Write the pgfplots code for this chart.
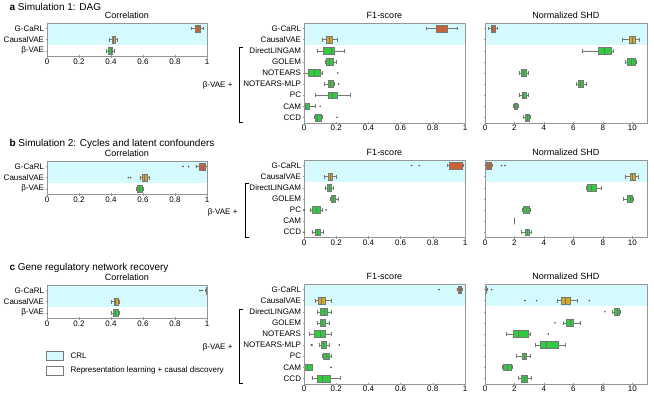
\documentclass[border=0pt]{standalone}
\usepackage{fontspec}
\setmainfont{Liberation Sans}
\usepackage{pgfplots}
\pgfplotsset{compat=1.18}
\usepgfplotslibrary{statistics}
\definecolor{crl}{RGB}{212,250,253}
\definecolor{orng}{RGB}{210,98,45}
\definecolor{gold}{RGB}{214,168,40}
\definecolor{grn}{RGB}{48,204,64}
\definecolor{edge}{RGB}{120,120,120}
\definecolor{frame}{RGB}{150,150,150}
\newcommand{\fs}{\fontsize{8}{9}\selectfont}
\pgfplotsset{
  pan/.style={scale only axis, axis on top, clip=false, anchor=north west,
    y dir=reverse, ymin=0.5, xmin=0,
    axis line style={frame,line width=0.5pt}, tick style={frame,line width=0.4pt},
    major tick length=2.5pt, tick align=center, tick pos=left,
    every tick label/.append style={font=\fs},
    xticklabel style={inner sep=1pt}, yticklabel style={inner sep=1.5pt},
    /pgf/number format/assume math mode=true,
    title style={font=\fontsize{9}{10}\selectfont, inner sep=0pt},
    every axis title shift=4pt,
    boxplot/draw direction=x},
  cr/.style={pan, width=160pt, height=33.3pt, xmax=1, xtick={0,0.2,0.4,0.6,0.8,1},
    ymax=3.5, ytick={1,2,3}, yticklabels={G-CaRL,CausalVAE,β-VAE}, title={Correlation}},
  fone/.style={pan, width=161pt, xmax=1, xtick={0,0.2,0.4,0.6,0.8,1}, title={F1-score}},
  shd/.style={pan, width=162pt, xmax=11, xtick={0,2,4,6,8,10}, yticklabels={}, title={Normalized SHD}},
  nine/.style={height=99.9pt, ymax=9.5, ytick={1,...,9}},
  seven/.style={height=77.7pt, ymax=7.5, ytick={1,...,7}},
  bxs/.style={draw=edge, line width=0.4pt, solid, mark=*, mark size=0.55pt,
    mark options={fill=black!70, draw=black!70},
    boxplot/box extend=0.62, boxplot/whisker extend=0.35,
    boxplot/every median/.style={draw=black!55, line width=0.6pt}},
}
% box: colour, row, lower whisker, lower quartile, median, upper quartile, upper whisker
\newcommand{\bx}[7]{\addplot[bxs, fill=#1, boxplot prepared={draw position=#2,
  lower whisker=#3, lower quartile=#4, median=#5, upper quartile=#6, upper whisker=#7}] coordinates {};}
% same, with outliers as last argument
\newcommand{\bxo}[8]{\addplot[bxs, fill=#1, boxplot prepared={draw position=#2,
  lower whisker=#3, lower quartile=#4, median=#5, upper quartile=#6, upper whisker=#7}]
  table[row sep=\\, y index=0] {v\\#8};}
\newcommand{\band}[2]{\fill[crl] (axis cs:0,0.5) rectangle (axis cs:#1,#2);}
\def\labsA{G-CaRL,CausalVAE,DirectLINGAM,GOLEM,NOTEARS,NOTEARS-MLP,PC,CAM,CCD}
\def\labsB{G-CaRL,CausalVAE,DirectLINGAM,GOLEM,PC,CAM,CCD}

\begin{document}
\begin{tikzpicture}[font=\fs]
\useasboundingbox (0,0) rectangle (654pt,-397pt);

% ---------------- a
\node[anchor=west, font=\fontsize{10}{12}\selectfont] at (6pt,-7pt) {\textbf{a} Simulation 1: DAG};
\begin{axis}[cr, at={(47pt,-23pt)}]
\band{1}{2.5}
\bx{orng}{1}{0.90}{0.925}{0.945}{0.96}{0.975}
\bx{gold}{2}{0.39}{0.405}{0.415}{0.425}{0.44}
\bx{grn}{3}{0.37}{0.385}{0.40}{0.41}{0.42}
\end{axis}
\begin{axis}[fone, nine, yticklabels/.expand once=\labsA, at={(304pt,-23pt)}]
\band{1}{2.5}
\bx{orng}{1}{0.76}{0.82}{0.857}{0.89}{0.95}
\bx{gold}{2}{0.11}{0.14}{0.16}{0.175}{0.205}
\bx{grn}{3}{0.08}{0.12}{0.168}{0.19}{0.25}
\bx{grn}{4}{0.13}{0.14}{0.16}{0.18}{0.20}
\bxo{grn}{5}{0.0}{0.025}{0.062}{0.10}{0.11}{0.21\\}
\bxo{grn}{6}{0.125}{0.15}{0.165}{0.18}{0.19}{0.215\\}
\bx{grn}{7}{0.07}{0.15}{0.175}{0.205}{0.29}
\bxo{grn}{8}{0.0}{0.0}{0.01}{0.03}{0.07}{0.10\\}
\bxo{grn}{9}{0.065}{0.07}{0.085}{0.105}{0.11}{0.205\\}
\end{axis}
\begin{axis}[shd, nine, at={(485pt,-23pt)}]
\band{11}{2.5}
\bx{orng}{1}{0.23}{0.39}{0.5}{0.68}{0.84}
\bx{gold}{2}{9.34}{9.82}{10.0}{10.2}{10.5}
\bx{grn}{3}{6.58}{7.66}{8.1}{8.55}{8.73}
\bx{grn}{4}{9.5}{9.64}{9.95}{10.2}{10.3}
\bx{grn}{5}{2.3}{2.43}{2.6}{2.77}{2.9}
\bx{grn}{6}{6.2}{6.3}{6.5}{6.69}{6.9}
\bx{grn}{7}{2.3}{2.5}{2.6}{2.77}{2.9}
\bx{grn}{8}{1.9}{1.97}{2.05}{2.2}{2.25}
\bx{grn}{9}{2.6}{2.72}{2.9}{3.01}{3.1}
\end{axis}
\draw[black, line width=0.5pt] (243pt,-47pt) -- (239pt,-47pt) -- (239pt,-122pt) -- (243pt,-122pt);
\node[anchor=east] at (236pt,-85pt) {β-VAE +};

% ---------------- b
\node[anchor=west, font=\fontsize{10}{12}\selectfont] at (6pt,-144pt) {\textbf{b} Simulation 2: Cycles and latent confounders};
\begin{axis}[cr, at={(47pt,-161pt)}]
\band{1}{2.5}
\bxo{orng}{1}{0.93}{0.95}{0.975}{0.99}{1.0}{0.85\\0.885\\}
\bxo{gold}{2}{0.58}{0.595}{0.61}{0.627}{0.64}{0.508\\0.523\\}
\bx{grn}{3}{0.56}{0.565}{0.58}{0.595}{0.60}
\end{axis}
\begin{axis}[fone, seven, yticklabels/.expand once=\labsB, at={(304pt,-160pt)}]
\band{1}{2.5}
\bxo{orng}{1}{0.89}{0.90}{0.95}{0.98}{0.99}{0.669\\0.716\\}
\bx{gold}{2}{0.126}{0.151}{0.165}{0.178}{0.203}
\bx{grn}{3}{0.13}{0.145}{0.157}{0.17}{0.182}
\bx{grn}{4}{0.16}{0.166}{0.18}{0.193}{0.213}
\bxo{grn}{5}{0.037}{0.054}{0.075}{0.10}{0.11}{0\\0.137\\}
\bx{grn}{6}{0}{0}{0}{0}{0}
\bxo{grn}{7}{0.048}{0.068}{0.08}{0.10}{0.12}{0\\}
\end{axis}
\begin{axis}[shd, seven, at={(485pt,-160pt)}]
\band{11}{2.5}
\bxo{orng}{1}{0.05}{0.11}{0.3}{0.45}{0.5}{1.13\\1.36\\}
\bx{gold}{2}{9.5}{9.84}{10.0}{10.18}{10.4}
\bx{grn}{3}{6.9}{6.95}{7.24}{7.53}{7.92}
\bx{grn}{4}{9.39}{9.66}{9.85}{10.0}{10.07}
\bx{grn}{5}{2.55}{2.6}{2.8}{3.0}{3.05}
\bx{grn}{6}{2}{2}{2}{2}{2}
\bx{grn}{7}{2.49}{2.71}{2.85}{2.99}{3.17}
\end{axis}
\draw[black, line width=0.5pt] (249pt,-183pt) -- (245pt,-183pt) -- (245pt,-237pt) -- (249pt,-237pt);
\node[anchor=east] at (241pt,-212pt) {β-VAE +};

% ---------------- c
\node[anchor=west, font=\fontsize{10}{12}\selectfont] at (6pt,-268pt) {\textbf{c} Gene regulatory network recovery};
\begin{axis}[cr, at={(47pt,-285pt)}]
\band{1}{2.5}
\bxo{orng}{1}{0.99}{0.994}{0.998}{1.0}{1.0}{0.956\\0.969\\}
\bx{gold}{2}{0.40}{0.417}{0.43}{0.442}{0.454}
\bx{grn}{3}{0.40}{0.415}{0.43}{0.442}{0.454}
\end{axis}
\begin{axis}[fone, nine, yticklabels/.expand once=\labsA, at={(304pt,-284pt)}]
\band{1}{2.5}
\bxo{orng}{1}{0.95}{0.958}{0.97}{0.978}{0.985}{0.838\\}
\bx{gold}{2}{0.072}{0.089}{0.11}{0.13}{0.168}
\bx{grn}{3}{0.083}{0.10}{0.125}{0.147}{0.168}
\bx{grn}{4}{0.079}{0.10}{0.114}{0.13}{0.157}
\bx{grn}{5}{0.033}{0.062}{0.10}{0.13}{0.172}
\bxo{grn}{6}{0.095}{0.106}{0.12}{0.137}{0.157}{0.045\\0.05\\0.219\\}
\bx{grn}{7}{0.11}{0.12}{0.138}{0.155}{0.172}
\bxo{grn}{8}{0.0}{0.002}{0.02}{0.048}{0.05}{0.168\\}
\bx{grn}{9}{0.048}{0.079}{0.115}{0.161}{0.224}
\end{axis}
\begin{axis}[shd, nine, at={(485pt,-284pt)}]
\band{11}{2.5}
\bxo{orng}{1}{0.0}{0.0}{0.05}{0.11}{0.15}{0.45\\}
\bxo{gold}{2}{4.9}{5.14}{5.45}{5.81}{6.27}{2.71\\3.5\\7.08\\}
\bxo{grn}{3}{8.67}{8.76}{8.95}{9.1}{9.2}{8.14\\}
\bxo{grn}{4}{5.3}{5.54}{5.8}{6.0}{6.45}{4.75\\}
\bxo{grn}{5}{1.43}{1.92}{2.26}{2.94}{3.05}{4.3\\}
\bx{grn}{6}{3.4}{3.73}{4.19}{4.98}{5.47}
\bx{grn}{7}{2.15}{2.53}{2.65}{2.83}{3.05}
\bx{grn}{8}{1.18}{1.24}{1.5}{1.76}{1.88}
\bx{grn}{9}{2.26}{2.49}{2.65}{2.87}{3.12}
\end{axis}
\draw[black, line width=0.5pt] (243pt,-309pt) -- (239pt,-309pt) -- (239pt,-383pt) -- (243pt,-383pt);
\node[anchor=east] at (236pt,-347pt) {β-VAE +};

% legend
\draw[edge, fill=crl] (46pt,-351pt) rectangle (63pt,-360pt);
\node[anchor=west] at (67pt,-355.5pt) {CRL};
\draw[edge, fill=white] (46pt,-366pt) rectangle (63pt,-375pt);
\node[anchor=west] at (67pt,-370.5pt) {Representation learning + causal discovery};
\end{tikzpicture}
\end{document}
